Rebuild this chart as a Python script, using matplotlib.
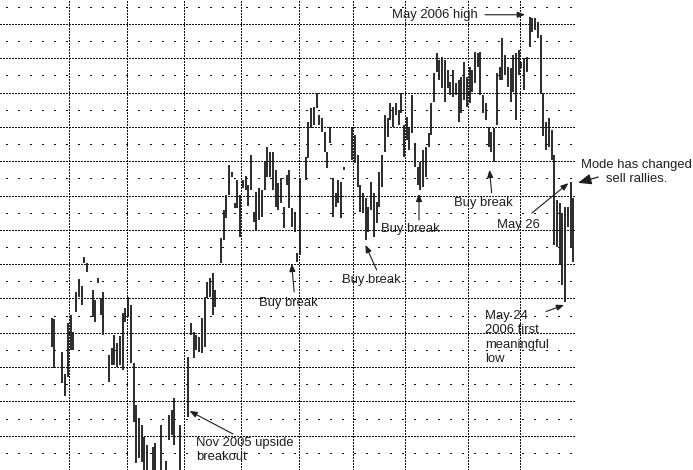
import matplotlib
matplotlib.use("Agg")
import matplotlib.pyplot as plt

plt.rcParams["lines.scale_dashes"] = False
plt.rcParams["font.family"] = ["Liberation Sans", "DejaVu Sans"]

# daily price bars, Aug 2005 - May 2006 (trading-day index, high, low)
days = [19, 20, 23, 24, 25, 26, 27, 28, 29, 30, 31, 32, 34, 35, 36, 37, 38,
        40, 41, 42, 43, 44, 45, 46, 47, 48, 49, 50, 51, 52, 53, 54, 56, 57,
        59, 61, 62, 63, 64, 66,
        69, 70, 71, 72, 73, 74, 75, 76, 77, 78, 79, 81, 82, 83, 84, 85, 86,
        87, 88, 89, 90, 91, 92, 93, 94, 95, 96, 97, 98, 99, 100, 101, 102,
        103, 104, 105, 106, 107, 108, 109, 110,
        112, 113, 114, 115, 116, 117, 118, 119, 120, 121, 122, 123, 124, 125,
        126, 129, 130, 131, 132, 133, 134, 135, 136, 137, 138, 139, 140, 141,
        142, 143, 144, 145, 146, 147, 148,
        149, 150, 151, 152, 153, 154, 155, 156, 157, 158, 159, 160, 161, 162,
        163, 164, 165, 166, 167, 168, 169, 170, 171, 172, 173, 174, 175, 176,
        177, 178, 179, 180, 181, 182, 183, 184, 185, 186, 187, 188, 189, 190,
        191, 192, 193, 194, 195, 196, 197, 198, 199, 200, 201, 202, 203, 204,
        205, 206, 207, 208, 209, 210]
highs = [44.3, 44.0, 34.4, 28.0, 42.9, 45.2, 40.2, 51.9, 55.7, 53.6, 62.1, 60.3,
         52.5, 49.6, 56.0, 50.1, 51.9, 33.5, 35.6, 39.4, 37.0, 39.1, 45.8, 47.2,
         50.4, 48.1, 31.2, 19.0, 15.2, 13.1, 9.6, 7.3, 6.7, 7.9, 13.1, 2.5, 16.0,
         17.5, 21.0, 13.1,
         32.9, 42.9, 40.2, 39.4, 38.8, 44.3, 50.4, 54.8, 56.0, 57.4, 52.5, 67.6,
         75.8, 80.2, 88.9, 86.9, 77.8, 84.5, 80.2, 84.5, 85.7, 83.1, 91.8, 75.2,
         81.0, 82.2, 81.6, 89.8, 94.2, 92.7, 92.7, 87.5, 83.7, 85.1, 76.7, 86.0,
         87.5, 76.4, 75.2, 63.3, 85.1,
         91.3, 101.5, 105.5, 105.8, 109.9, 103.5, 102.6, 98.5, 92.7, 100.0, 85.1,
         80.8, 84.5, 84.0, 88.3, 100.0, 97.7, 91.8, 83.1, 80.8, 79.3, 76.7, 84.0,
         80.8, 78.1, 86.9, 91.8, 103.5, 102.6, 107.0, 105.8, 107.0, 105.0, 109.9,
         100.6,
         102.9, 100.0, 109.3, 95.3, 88.3, 89.8, 93.3, 94.2, 98.3, 107.0, 115.7,
         121.6, 119.5, 120.4, 119.5, 116.6, 113.1, 116.6, 112.8, 113.7, 114.6,
         119.0, 114.6, 117.5, 116.6, 121.9, 121.6, 121.9, 109.3, 107.0, 100.0,
         98.5, 99.7, 115.7, 117.5, 125.9, 121.0, 117.5, 117.2, 121.0, 121.6, 122.4,
         119.0, 120.1, 120.4, 132.1, 131.8, 131.8, 130.6, 126.8, 109.9, 101.5,
         102.6, 99.1, 91.8, 78.7, 77.8, 74.9, 76.7, 76.7, 84.0, 79.3]
lows = [35.9, 29.7, 25.4, 21.6, 27.1, 35.0, 35.0, 46.1, 50.4, 48.1, 60.3, 57.7,
        44.6, 43.1, 54.5, 45.2, 39.4, 25.7, 30.6, 30.6, 30.0, 30.6, 29.2, 43.1,
        44.6, 31.2, 14.0, 2.0, 3.5, 2.3, -3, -3, -3, -3, -3, -3, 8.7, 10.2, 7.3,
        -3,
        15.5, 39.4, 32.7, 35.0, 34.4, 34.1, 35.9, 50.1, 50.4, 45.2, 47.5, 60.3,
        67.1, 73.5, 80.2, 85.4, 76.4, 76.4, 67.9, 82.2, 81.6, 77.0, 81.6, 72.3,
        70.0, 72.9, 73.8, 81.6, 85.4, 85.4, 81.6, 76.7, 75.8, 77.8, 70.6, 83.1,
        76.4, 70.8, 69.4, 60.6, 62.7,
        84.5, 91.0, 99.7, 100.6, 105.5, 100.6, 98.5, 92.7, 88.0, 95.3, 73.8,
        76.7, 77.8, 73.5, 87.5, 90.4, 89.5, 82.5, 75.2, 74.9, 67.1, 69.4, 75.8,
        67.9, 72.0, 76.7, 82.5, 92.7, 97.1, 102.0, 100.0, 103.5, 100.6, 104.1,
        91.3,
        96.2, 93.3, 98.3, 88.3, 83.1, 81.6, 82.5, 85.4, 94.2, 97.7, 107.3, 116.0,
        113.7, 111.4, 107.3, 111.4, 109.3, 108.7, 109.3, 101.5, 104.1, 107.9,
        105.8, 107.0, 110.2, 112.8, 117.5, 109.3, 104.1, 102.0, 94.2, 92.7, 89.8,
        100.6, 113.7, 113.7, 115.2, 111.7, 107.3, 110.2, 102.0, 115.2,
        117.2, 110.8, 116.0, 123.3, 127.7, 128.3, 125.9, 109.9, 97.5, 93.3, 94.2,
        90.4, 65.6, 65.0, 59.8, 53.9, 49.0, 70.8, 64.7, 60.6]

# first trading day of each month, Sep 2005 .. May 2006
month_starts = [26, 47, 68, 89, 110, 130, 149, 172, 191]

major_levels = list(range(10, 131, 10))
minor_levels = list(range(5, 136, 10))

ink = "#1e1e1e"
fig = plt.figure(figsize=(6.93, 4.70), dpi=100)
ax = fig.add_axes([0, 0, 575 / 693, 1])
ax.set_xlim(0.13, 210.6)
ax.set_ylim(0, 137)
ax.axis("off")

dense = (0, (0.75, 1.41))
sparse = (4.5, (0.75, 7.89))
grid = dict(color="#111111", lw=0.8, zorder=1, antialiased=False)
for y in major_levels:
    ax.axhline(y, linestyle=dense, **grid)
for y in minor_levels:
    ax.axhline(y, linestyle=sparse, **grid)
for m in month_starts:
    ax.axvline(m - 0.5, linestyle=dense, **grid)

ax.vlines(days, lows, highs, colors="#1a1a1a", linewidth=1.3, zorder=3,
          clip_on=False)

txt = dict(fontsize=9.4, color=ink, zorder=4)
small_head = "-|>,head_length=0.45,head_width=0.18"


def arrow(start, end, style=small_head, lw=0.8):
    ax.annotate("", xy=end, xytext=start, annotation_clip=False,
                arrowprops=dict(arrowstyle=style, lw=lw, color=ink,
                                shrinkA=0, shrinkB=0), zorder=4)


ax.text(143.6, 132.7, "May 2006 high", ha="left", va="center", **txt)
arrow((177.7, 132.7), (192.3, 132.7))

ax.text(105.6, 48.8, "Buy break", ha="center", va="center", **txt)
arrow((107.8, 51.9), (106.9, 60.1))
ax.text(136.2, 55.4, "Buy break", ha="center", va="center", **txt)
arrow((138.0, 58.3), (133.9, 65.6))
ax.text(150.2, 70.2, "Buy break", ha="center", va="center", **txt)
arrow((153.5, 72.9), (153.5, 80.5))
ax.text(176.9, 77.8, "Buy break", ha="center", va="center", **txt)
arrow((180.1, 80.8), (179.3, 87.5))

ax.text(71.8, 5.8, "Nov 2005 upside\nbreakout", ha="left", va="center",
        linespacing=1.25, **txt)
arrow((85.4, 10.5), (69.5, 17.2))

ax.text(177.7, 38.6, "May 24\n2006 first\nmeaningful\nlow", ha="left",
        va="center", linespacing=1.25, **txt)
arrow((200.0, 46.2), (206.6, 48.1))

ax.text(190.0, 71.4, "May 26", ha="center", va="center", **txt)
arrow((194.8, 74.9), (208.2, 83.6))

ax.text(233.0, 86.9, "Mode has changed\nsell rallies.", ha="center",
        va="center", linespacing=1.3, clip_on=False, **txt)
arrow((219.1, 85.4), (211.7, 83.7),
      style="-|>,head_length=0.8,head_width=0.32", lw=0.9)

fig.savefig("out.png", dpi=100)
